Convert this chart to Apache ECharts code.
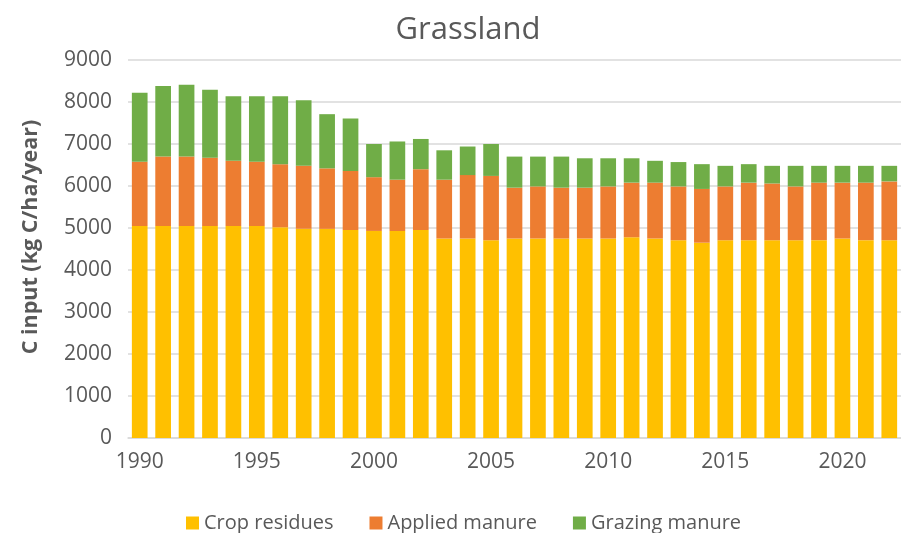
<!DOCTYPE html>
<html><head><meta charset="utf-8">
<script src="https://cdn.jsdelivr.net/npm/echarts@6/dist/echarts.min.js"></script>
<style>html,body{margin:0;padding:0;background:#fff}#c{width:901px;height:533px}</style>
</head><body><div id="c"></div>
<script>
const years = ['1990','1991','1992','1993','1994','1995','1996','1997','1998','1999','2000','2001','2002','2003','2004','2005','2006','2007','2008','2009','2010','2011','2012','2013','2014','2015','2016','2017','2018','2019','2020','2021','2022'];
const cropResidues = [5050,5050,5050,5050,5050,5050,5020,4980,4980,4950,4930,4930,4950,4750,4750,4710,4750,4750,4750,4750,4750,4780,4750,4710,4650,4710,4710,4710,4710,4710,4750,4710,4710];
const appliedManure = [1530,1650,1650,1620,1550,1530,1500,1500,1440,1410,1280,1220,1450,1400,1510,1530,1210,1240,1210,1210,1240,1300,1330,1280,1280,1280,1370,1350,1280,1370,1330,1370,1400];
const grazingManure = [1640,1680,1710,1620,1535,1555,1615,1560,1290,1250,790,910,720,700,680,760,740,710,740,700,670,580,520,580,590,490,440,420,490,400,400,400,370];
const yTicks = {min:0, max:9000, step:1000};

const font = '"Open Sans", "Noto Sans", sans-serif';
const chart = echarts.init(document.getElementById('c'), null, {renderer:'canvas'});
const mk = (name, data, color) => ({name, type:'bar', stack:'t', data, barCategoryGap:'33%',
  itemStyle:{color}, emphasis:{disabled:true}});
chart.setOption({
  animation:false,
  title:{text:'Grassland', left:463, top:10, textAlign:'center',
    textStyle:{fontFamily:font, fontSize:31, fontWeight:'normal', color:'#595959'}},
  grid:{left:128, top:60, width:775, height:378},
  legend:{top:508, left:181, itemWidth:13, itemHeight:13, itemGap:36,
    icon:'rect', textStyle:{fontFamily:font, fontSize:20, color:'#595959'},
    data:['Crop residues','Applied manure','Grazing manure']},
  xAxis:{type:'category', data:years,
    axisLine:{lineStyle:{color:'#d9d9d9', width:1.5}}, axisTick:{show:false},
    axisLabel:{interval:4, margin:14, fontFamily:font, fontSize:21, color:'#595959'}},
  yAxis:{type:'value', min:yTicks.min, max:yTicks.max, interval:yTicks.step,
    name:'C input (kg C/ha/year)', nameLocation:'middle', nameGap:86,
    nameTextStyle:{fontFamily:font, fontSize:21.5, fontWeight:'bold', color:'#595959', padding:[0,0,0,24]},
    axisLine:{show:false}, axisTick:{show:false},
    splitLine:{lineStyle:{color:'#d9d9d9', width:1.5}},
    axisLabel:{margin:16, fontFamily:font, fontSize:21, color:'#595959', formatter:v=>String(v)}},
  series:[
    mk('Crop residues', cropResidues, '#FFC000'),
    mk('Applied manure', appliedManure, '#ED7D31'),
    mk('Grazing manure', grazingManure, '#70AD47')
  ]
});
</script></body></html>
